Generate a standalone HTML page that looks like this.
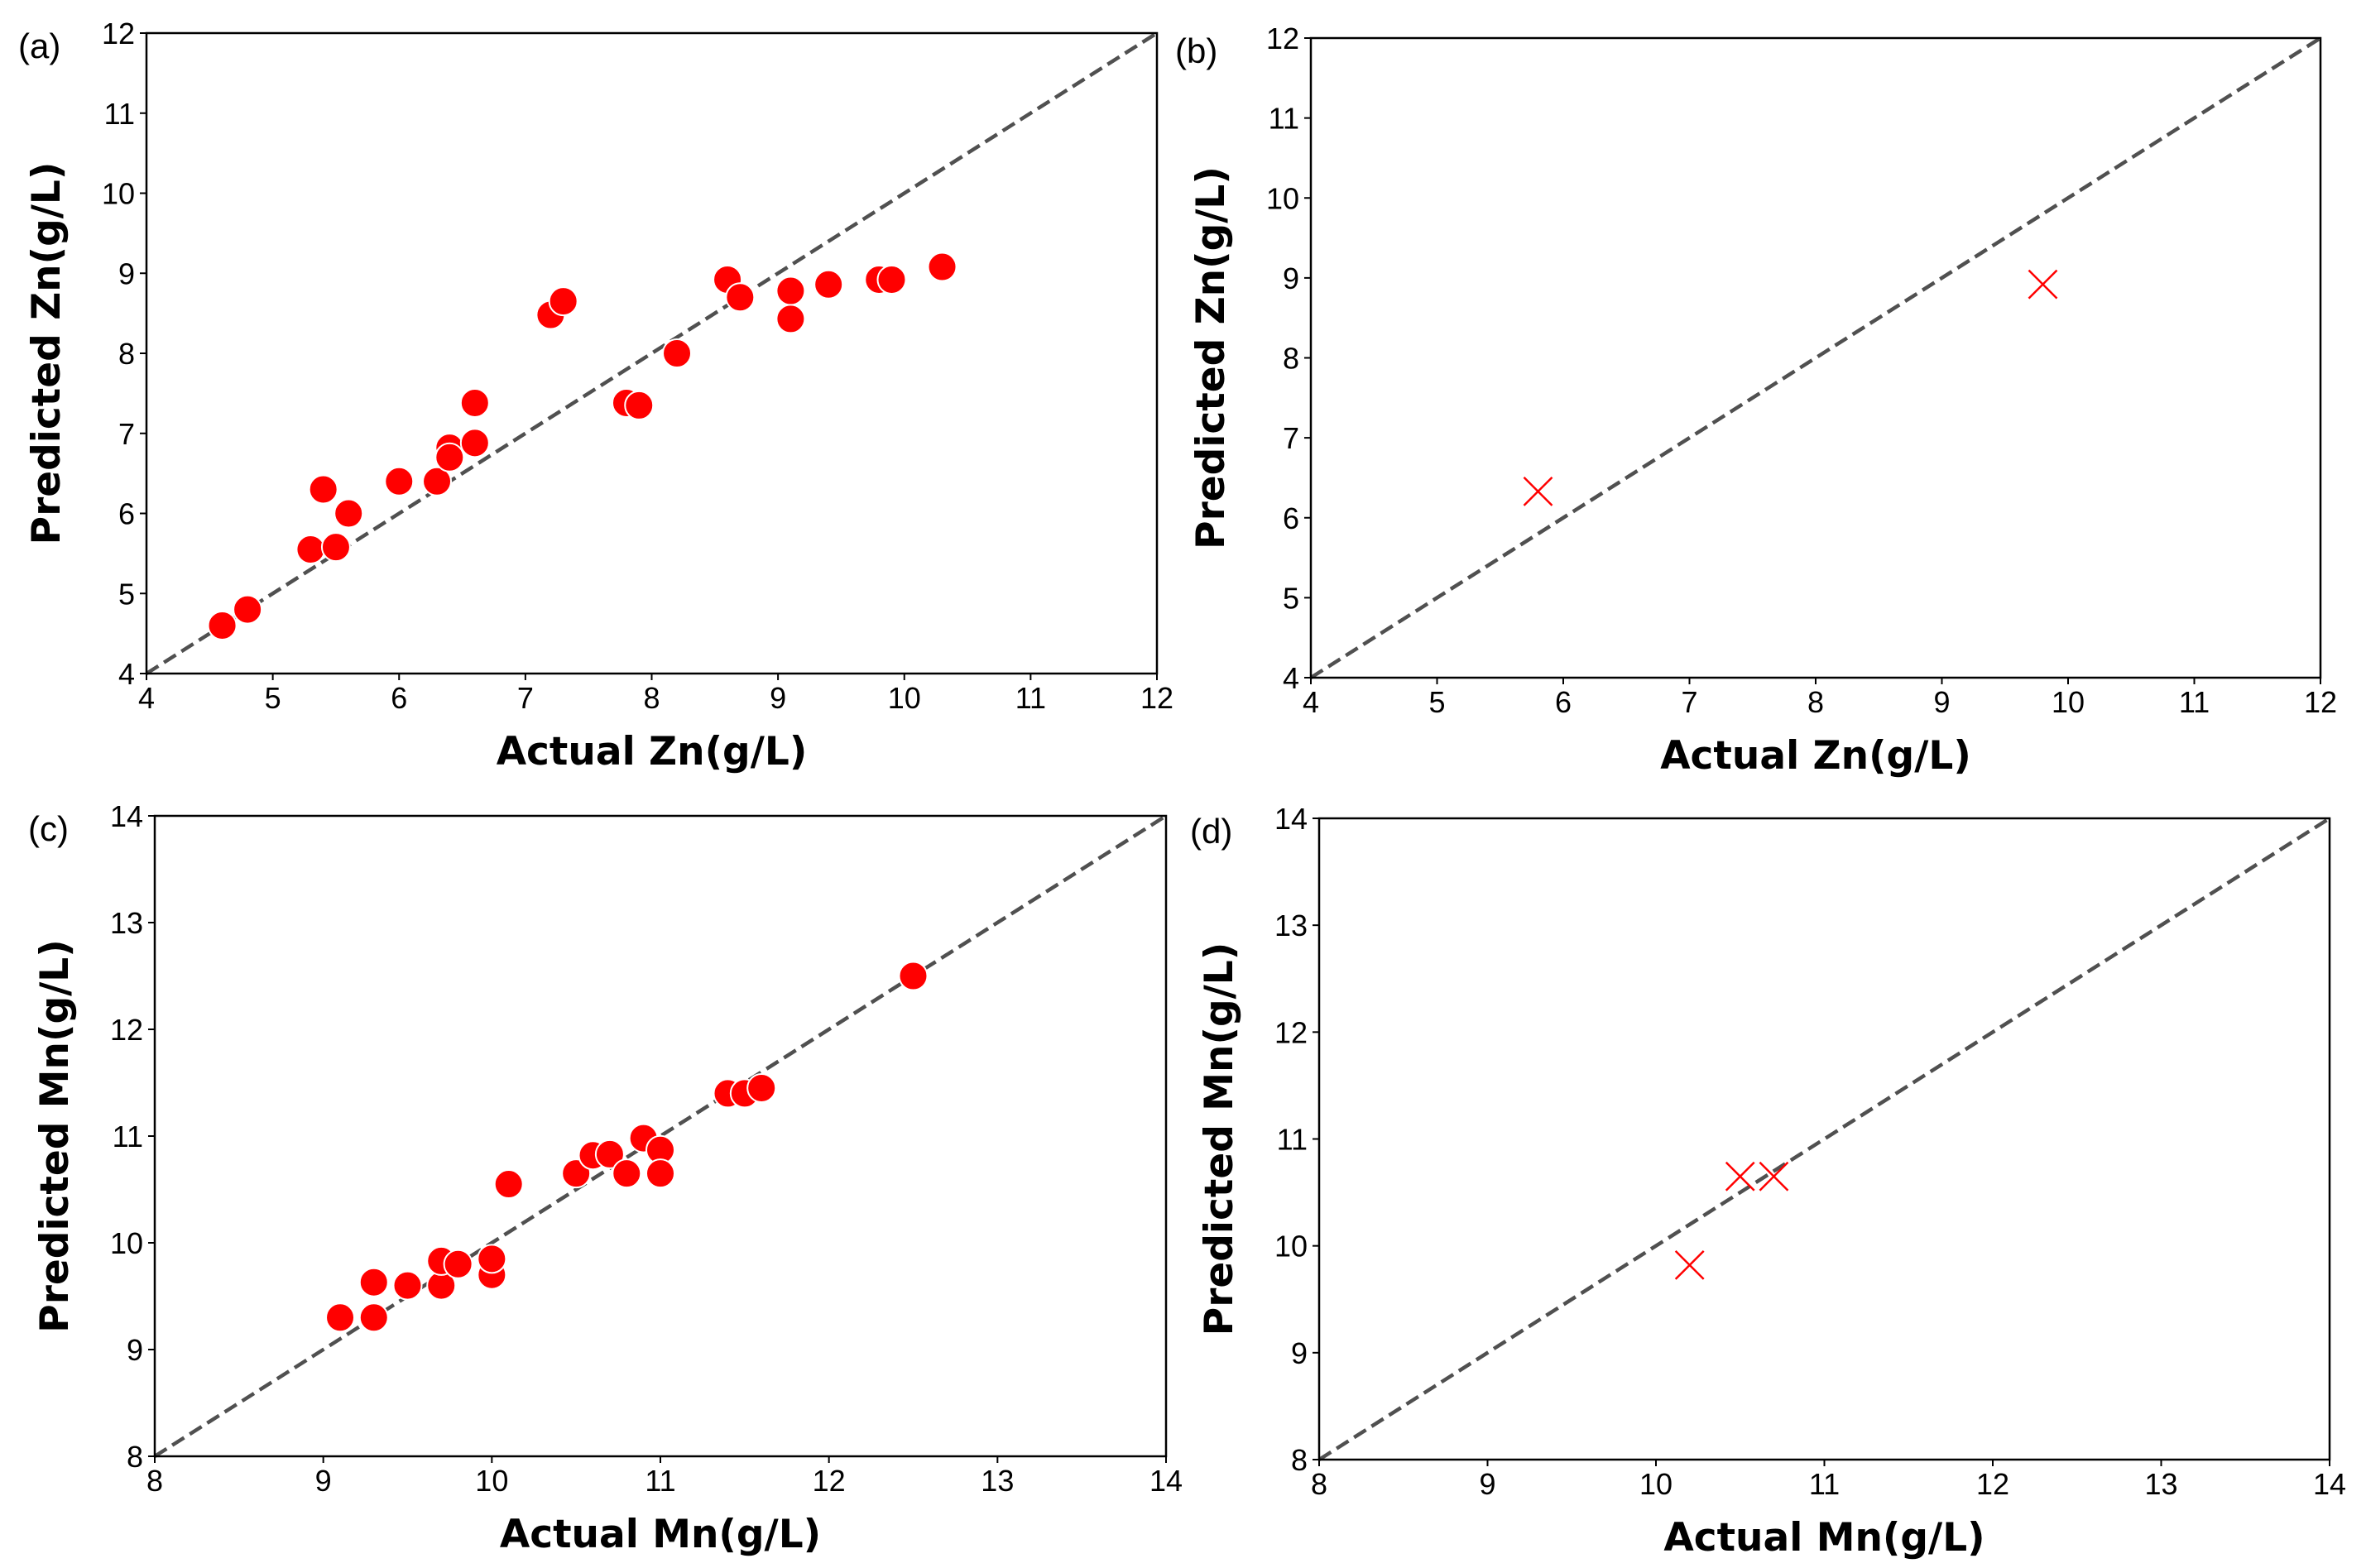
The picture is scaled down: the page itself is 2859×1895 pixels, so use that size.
<!DOCTYPE html>
<html><head><meta charset="utf-8"><style>
html,body{margin:0;padding:0;background:#fff}
svg{display:block}
.tick{font-family:"Liberation Sans Narrow","Liberation Sans",sans-serif;font-size:36px;fill:#000}
.title{font-family:"DejaVu Sans","Liberation Sans",sans-serif;font-weight:bold;font-size:47px;fill:#000}
.plab{font-family:"Liberation Sans Narrow","Liberation Sans",sans-serif;font-size:42px;fill:#000}
</style></head><body>
<svg id="fig" width="2859" height="1895" viewBox="0 0 2859 1895" xmlns="http://www.w3.org/2000/svg"></svg>
<script>
const aActual=[4.6,4.8,5.3,5.5,5.4,5.6,6.0,6.3,6.4,6.4,6.6,6.6,7.2,7.3,7.8,7.9,8.2,8.6,8.7,9.1,9.1,9.4,9.8,9.9,10.3];
const aPred=[4.6,4.8,5.55,5.58,6.3,6.0,6.4,6.4,6.82,6.7,6.88,7.38,8.48,8.65,7.38,7.35,8.0,8.92,8.7,8.78,8.43,8.86,8.92,8.92,9.08];
const bActual=[5.8,9.8];
const bPred=[6.33,8.92];
const cActual=[9.1,9.3,9.3,9.5,9.7,9.7,9.8,10.0,10.0,10.1,10.5,10.6,10.7,10.8,10.9,11.0,11.0,11.4,11.5,11.6,12.5];
const cPred=[9.3,9.3,9.63,9.6,9.6,9.83,9.8,9.7,9.85,10.55,10.65,10.82,10.83,10.65,10.98,10.87,10.65,11.4,11.4,11.45,12.5];
const dActual=[10.2,10.5,10.7];
const dPred=[9.82,10.65,10.65];
const znTicks=[4,5,6,7,8,9,10,11,12];
const mnTicks=[8,9,10,11,12,13,14];

const NS="http://www.w3.org/2000/svg";
const svg=document.getElementById('fig');
function mk(tag,attrs,parent){const e=document.createElementNS(NS,tag);for(const k in attrs)e.setAttribute(k,attrs[k]);(parent||svg).appendChild(e);return e;}

function panel(cfg){
  const g=mk('g',{});
  
  
  const {L,R,T,B,min,max,ticks}=cfg;
  const sx=v=>L+(v-min)/(max-min)*(R-L);
  const sy=v=>B-(v-min)/(max-min)*(B-T);
  ticks.forEach(t=>{
    mk('line',{x1:sx(t),y1:B,x2:sx(t),y2:B+8,stroke:'#000','stroke-width':2},g);
    const tx=mk('text',{x:sx(t),y:B+42,'text-anchor':'middle',class:'tick'},g);
    tx.textContent=t;
    
    
    mk('line',{x1:L-8,y1:sy(t),x2:L,y2:sy(t),stroke:'#000','stroke-width':2},g);
    const ty=mk('text',{x:L-14,y:sy(t)+13,'text-anchor':'end',class:'tick'},g);
    ty.textContent=t;
    
    
  });
  const dl=mk('line',{x1:sx(min),y1:sy(min),x2:sx(max),y2:sy(max),stroke:'#505050','stroke-width':4.5,'stroke-dasharray':'17,8'},g);
  
  
  cfg.xs.forEach((x,i)=>{
    const px=sx(x),py=sy(cfg.ys[i]);
    if(cfg.marker==='o'){
      const c=mk('circle',{cx:px,cy:py,r:17,fill:'#ff0000',stroke:'#fff','stroke-width':2},g);
      
      
    }else{
      const s=17;
      const p=mk('path',{d:`M${px-s},${py-s}L${px+s},${py+s}M${px-s},${py+s}L${px+s},${py-s}`,stroke:'#ff0000','stroke-width':2.5,fill:'none'},g);
      
      
    }
  });
  const fr=mk('rect',{x:L,y:T,width:R-L,height:B-T,fill:'none',stroke:'#000','stroke-width':2.5},g);
  
  
  const xt=mk('text',{x:(L+R)/2,y:B+110,'text-anchor':'middle',class:'title'},g);
  xt.textContent=cfg.xlabel;
  
  
  const yx=L-105,yy=(T+B)/2;
  const yt=mk('text',{x:yx,y:yy,'text-anchor':'middle',class:'title',transform:`rotate(-90 ${yx} ${yy})`},g);
  yt.textContent=cfg.ylabel;
  
  
  const pl=mk('text',{x:cfg.plx,y:T+30,class:'plab'},g);
  pl.textContent=cfg.label;
  
  
}
panel({id:'a',L:177,R:1398,T:40,B:814,min:4,max:12,ticks:znTicks,xs:aActual,ys:aPred,marker:'o',xlabel:'Actual Zn(g/L)',ylabel:'Predicted Zn(g/L)',label:'(a)',plx:22});
panel({id:'b',L:1584,R:2804,T:46,B:819,min:4,max:12,ticks:znTicks,xs:bActual,ys:bPred,marker:'x',xlabel:'Actual Zn(g/L)',ylabel:'Predicted Zn(g/L)',label:'(b)',plx:1420});
panel({id:'c',L:187,R:1409,T:986,B:1760,min:8,max:14,ticks:mnTicks,xs:cActual,ys:cPred,marker:'o',xlabel:'Actual Mn(g/L)',ylabel:'Predicted Mn(g/L)',label:'(c)',plx:34});
panel({id:'d',L:1594,R:2815,T:989,B:1764,min:8,max:14,ticks:mnTicks,xs:dActual,ys:dPred,marker:'x',xlabel:'Actual Mn(g/L)',ylabel:'Predicted Mn(g/L)',label:'(d)',plx:1438});
</script>
</body></html>
